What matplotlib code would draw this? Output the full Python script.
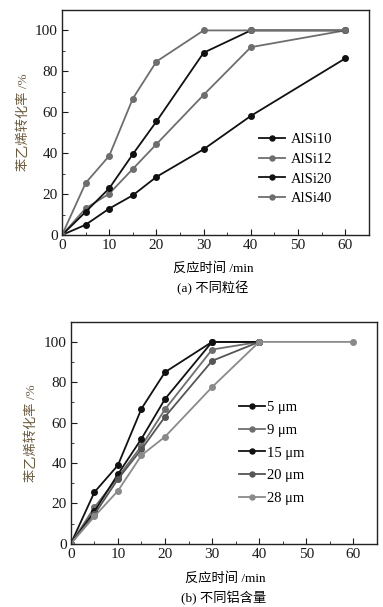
import matplotlib
matplotlib.use('Agg')
import matplotlib.pyplot as plt
from matplotlib.ticker import MultipleLocator

plt.rcParams['font.family'] = ['Liberation Serif', 'Noto Sans CJK SC']
plt.rcParams['mathtext.fontset'] = 'stix'

# panel (a): different particle size
t_a = [0, 5, 10, 15, 20, 30, 40, 60]
alsi10 = [0, 5, 12.9, 19.4, 28.4, 41.9, 58.2, 86.3]
alsi12 = [0, 13, 20.2, 32.3, 44.4, 68.5, 91.8, 100]
alsi20 = [0, 11.3, 22.8, 39.5, 55.5, 89.1, 100, 100]
alsi40 = [0, 25.4, 38.7, 66.7, 84.8, 100, 100, 100]
labels_a = ['AlSi10', 'AlSi12', 'AlSi20', 'AlSi40']

# panel (b): different Al content
t_b = [0, 5, 10, 15, 20, 30, 40]
t_b28 = [0, 5, 10, 15, 20, 30, 40, 60]
um5 = [0, 25.5, 38.9, 66.9, 85, 100, 100]
um9 = [0, 18, 33, 48.4, 66.6, 96.2, 100]
um15 = [0, 16, 34.4, 52, 71.7, 100, 100]
um20 = [0, 14.5, 32, 46.8, 62.9, 90.6, 100]
um28 = [0, 13.5, 26.2, 43.8, 53, 77.6, 100, 100]
labels_b = ['5 μm', '9 μm', '15 μm', '20 μm', '28 μm']

dark = '#111111'
mid = '#555555'
grey = '#6e6e6e'
light = '#8a8a8a'
ylab_color = '#6b5a3c'

fig = plt.figure(figsize=(3.83, 6.07), dpi=100)
ax1 = fig.add_axes([0.162, 0.6129, 0.801, 0.3707])
ax2 = fig.add_axes([0.185, 0.1043, 0.799, 0.3657])

kw = dict(lw=1.3, marker='o', markersize=4)
ax1.plot(t_a, alsi10, color=dark, label=labels_a[0], **kw)
ax1.plot(t_a, alsi12, color=grey, label=labels_a[1], **kw)
ax1.plot(t_a, alsi20, color=dark, label=labels_a[2], **kw)
ax1.plot(t_a, alsi40, color=grey, label=labels_a[3], **kw)

ax2.plot(t_b, um5, color=dark, label=labels_b[0], **kw)
ax2.plot(t_b, um9, color=grey, label=labels_b[1], **kw)
ax2.plot(t_b, um15, color=dark, label=labels_b[2], **kw)
ax2.plot(t_b, um20, color=mid, label=labels_b[3], **kw)
ax2.plot(t_b28, um28, color=light, label=labels_b[4], **kw)

for ax in (ax1, ax2):
    ax.set_xlim(0, 65)
    ax.set_ylim(0, 110)
    ax.xaxis.set_major_locator(MultipleLocator(10))
    ax.xaxis.set_minor_locator(MultipleLocator(5))
    ax.yaxis.set_major_locator(MultipleLocator(20))
    ax.yaxis.set_minor_locator(MultipleLocator(10))
    ax.tick_params(which='both', direction='in', top=False, right=False,
                   labelsize=11, colors='#1a1a1a', pad=3)
    ax.tick_params(which='major', length=4)
    ax.tick_params(which='minor', length=2.5)
    for s in ax.spines.values():
        s.set_linewidth(1.0)
        s.set_color('#222222')
    ax.set_ylabel('苯乙烯转化率 /%', fontsize=9.5, color=ylab_color, labelpad=4)

ax1.legend(loc='center left', bbox_to_anchor=(0.6, 0.293), frameon=False,
           fontsize=10.5, handlelength=1.8, handletextpad=0.4, labelspacing=0.45,
           markerscale=0.9)
ax2.legend(loc='center left', bbox_to_anchor=(0.505, 0.409), frameon=False,
           fontsize=10.5, handlelength=1.8, handletextpad=0.15, labelspacing=0.65,
           markerscale=0.9)

fig.text(0.557, 1 - 268 / 607, '反应时间 /min', ha='center', va='center', fontsize=9.5)
fig.text(0.555, 1 - 288 / 607, '(a) 不同粒径', ha='center', va='center', fontsize=9.5)
fig.text(0.587, 1 - 578 / 607, '反应时间 /min', ha='center', va='center', fontsize=9.5)
fig.text(0.583, 1 - 598 / 607, '(b) 不同铝含量', ha='center', va='center', fontsize=9.5)

fig.savefig('out.png', dpi=100, facecolor='white')
